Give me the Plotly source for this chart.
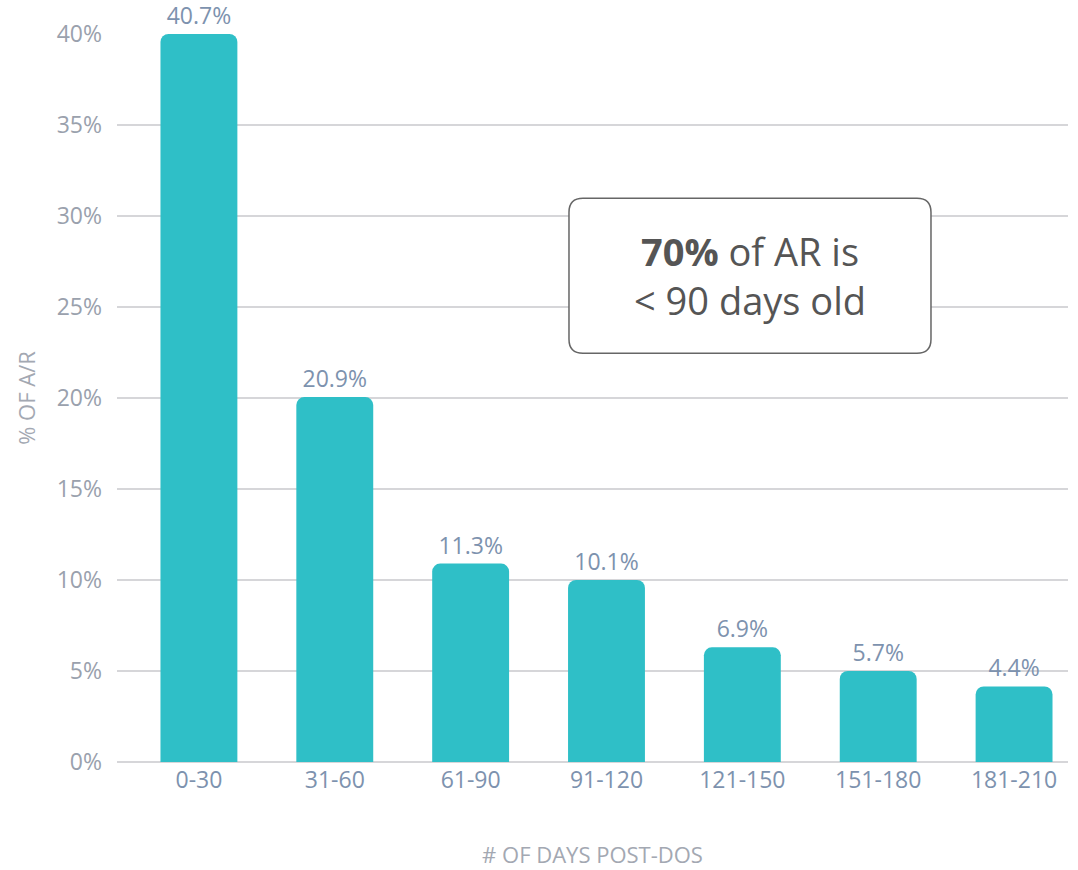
import plotly.graph_objects as go

categories = ["0-30", "31-60", "61-90", "91-120", "121-150", "151-180", "181-210"]
bar_heights = [40.0, 20.05, 10.9, 10.0, 6.3, 5.0, 4.15]
bar_labels = ["40.7%", "20.9%", "11.3%", "10.1%", "6.9%", "5.7%", "4.4%"]
y_ticks = [0, 5, 10, 15, 20, 25, 30, 35, 40]
y_tick_text = ["0%", "5%", "10%", "15%", "20%", "25%", "30%", "35%", "40%"]

FONT = "Open Sans"

fig = go.Figure()
fig.add_trace(go.Bar(
    x=categories,
    y=bar_heights,
    text=bar_labels,
    textposition="outside",
    textfont=dict(family=FONT, size=23, color="#7d92ae"),
    marker=dict(color="#2fbfc7", cornerradius=8, line=dict(width=0)),
    cliponaxis=False,
    hoverinfo="skip",
))

# rounded callout box (pixel-sized around a paper anchor)
w, h, r = 181, 77.5, 14
path = (f"M {-w + r},{-h} L {w - r},{-h} Q {w},{-h} {w},{-h + r} "
        f"L {w},{h - r} Q {w},{h} {w - r},{h} L {-w + r},{h} "
        f"Q {-w},{h} {-w},{h - r} L {-w},{-h + r} Q {-w},{-h} {-w + r},{-h} Z")
fig.add_shape(type="path", xref="paper", yref="paper",
              xsizemode="pixel", ysizemode="pixel",
              xanchor=0.6656, yanchor=0.668, path=path,
              line=dict(color="#666666", width=1.5), fillcolor="white", layer="above")
fig.add_annotation(xref="paper", yref="paper", x=0.6656, y=0.668,
                   text="<b>70%</b> of AR is<br>&lt; 90 days old", showarrow=False,
                   font=dict(family=FONT, size=38, color="#555555"),
                   align="center", xanchor="center", yanchor="middle")

fig.update_layout(
    width=1078, height=870,
    margin=dict(l=117, r=10, t=34, b=108),
    plot_bgcolor="white", paper_bgcolor="white",
    bargap=0.434,
    showlegend=False,
    hovermode=False,
    font=dict(family=FONT),
    xaxis=dict(
        range=[-0.603, 6.397],
        automargin=False,
        showgrid=False, zeroline=False, showline=False,
        ticks="", ticklabelstandoff=2,
        tickfont=dict(family=FONT, size=23, color="#7d92ae"),
        title=dict(text="# OF DAYS POST-DOS", standoff=53,
                   font=dict(family=FONT, size=22, color="#a3a8b2")),
    ),
    yaxis=dict(
        range=[0, 40],
        automargin=False,
        tickvals=y_ticks, ticktext=y_tick_text,
        showgrid=True, gridcolor="#d6d6d9", gridwidth=2,
        zeroline=True, zerolinecolor="#d6d6d9", zerolinewidth=2,
        showline=False, ticks="", ticklabelstandoff=14,
        tickfont=dict(family=FONT, size=23, color="#9aa1ad"),
        title=dict(text="% OF A/R", standoff=14,
                   font=dict(family=FONT, size=22, color="#a3a8b2")),
    ),
)

fig.write_html("out.html", config={"displayModeBar": False},
               post_script="document.body.style.margin='0';")
